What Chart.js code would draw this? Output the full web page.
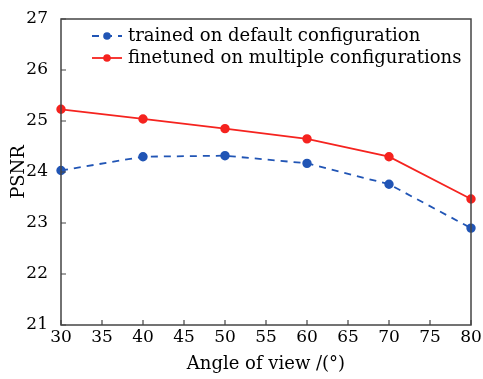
<!DOCTYPE html>
<html>
<head>
<meta charset="utf-8">
<script src="https://cdn.jsdelivr.net/npm/chart.js@4/dist/chart.umd.min.js"></script>
<style>
	html, body { margin: 0; padding: 0; background: #fff; }
	#wrap { width: 483px; height: 379px; }
</style>
</head>
<body>
<div id="wrap"><canvas id="chart" width="483" height="379"></canvas></div>
<script>
const angles = [30, 40, 50, 60, 70, 80];
const trainedDefault = [24.03, 24.30, 24.32, 24.17, 23.76, 22.90];
const finetunedMulti = [25.23, 25.04, 24.85, 24.65, 24.30, 23.47];
const seriesLabels = ['trained on default configuration', 'finetuned on multiple configurations'];
const xTitle = 'Angle of view /(°)';
const yTitle = 'PSNR';

const FONT = '"DejaVu Serif", serif';
const BLUE = '#2155b5';
const RED = '#f5231f';

// frame, inward ticks and the legend
const framePlugin = {
	id: 'frame',
	afterDraw(chart) {
		const { ctx, chartArea: a, scales } = chart;
		ctx.save();
		ctx.strokeStyle = '#444';
		ctx.lineWidth = 1.5;
		ctx.strokeRect(a.left, a.top, a.right - a.left, a.bottom - a.top);

		ctx.lineWidth = 1.2;
		ctx.beginPath();
		scales.x.ticks.forEach(t => {
			const px = scales.x.getPixelForValue(t.value);
			ctx.moveTo(px, a.bottom);
			ctx.lineTo(px, a.bottom - 5);
		});
		scales.y.ticks.forEach(t => {
			const py = scales.y.getPixelForValue(t.value);
			ctx.moveTo(a.left, py);
			ctx.lineTo(a.left + 5, py);
		});
		ctx.stroke();

		// legend
		const lx = a.left + 31;
		let ly = a.top + 17;
		ctx.font = '18px ' + FONT;
		ctx.textBaseline = 'middle';
		chart.data.datasets.forEach(ds => {
			ctx.strokeStyle = ds.borderColor;
			ctx.lineWidth = ds.borderWidth;
			ctx.setLineDash(ds.borderDash || []);
			ctx.beginPath();
			ctx.moveTo(lx, ly);
			ctx.lineTo(lx + 30, ly);
			ctx.stroke();
			ctx.setLineDash([]);
			ctx.fillStyle = ds.pointBackgroundColor;
			ctx.beginPath();
			ctx.arc(lx + 15, ly, 3.8, 0, Math.PI * 2);
			ctx.fill();
			ctx.fillStyle = '#000';
			ctx.fillText(ds.label, lx + 36, ly);
			ly += 22;
		});
		ctx.restore();
	}
};

const config = {
	type: 'line',
	data: {
		datasets: [
			{
				label: seriesLabels[0],
				data: angles.map((a, i) => ({ x: a, y: trainedDefault[i] })),
				borderColor: BLUE,
				backgroundColor: BLUE,
				pointBackgroundColor: BLUE,
				pointBorderColor: BLUE,
				borderWidth: 1.8,
				borderDash: [7, 6],
				pointRadius: 3.8,
				tension: 0
			},
			{
				label: seriesLabels[1],
				data: angles.map((a, i) => ({ x: a, y: finetunedMulti[i] })),
				borderColor: RED,
				backgroundColor: RED,
				pointBackgroundColor: RED,
				pointBorderColor: RED,
				borderWidth: 1.8,
				pointRadius: 3.8,
				tension: 0
			}
		]
	},
	options: {
		responsive: false,
		animation: false,
		clip: false,
		elements: { line: { tension: 0, cubicInterpolationMode: 'default' } },
		layout: { padding: { top: 19, right: 12, left: 9, bottom: 0 } },
		plugins: {
			legend: { display: false },
			tooltip: { enabled: false }
		},
		scales: {
			x: {
				type: 'linear',
				min: 30,
				max: 80,
				ticks: { stepSize: 5, color: '#000', font: { family: FONT, size: 17 }, padding: -6, maxRotation: 0 },
				grid: { display: false },
				border: { display: false },
				title: { display: true, text: xTitle, color: '#000', font: { family: FONT, size: 18 }, padding: { top: 3 } },
				afterFit: s => { s.height = 54; }
			},
			y: {
				min: 21,
				max: 27,
				ticks: { stepSize: 1, color: '#000', font: { family: FONT, size: 17 }, padding: 5 },
				grid: { display: false },
				border: { display: false },
				title: { display: true, text: yTitle, color: '#000', font: { family: FONT, size: 18 }, padding: 0 },
				afterFit: s => { s.width = 52; }
			}
		}
	},
	plugins: [framePlugin]
};

new Chart(document.getElementById('chart').getContext('2d'), config);
</script>
</body>
</html>
